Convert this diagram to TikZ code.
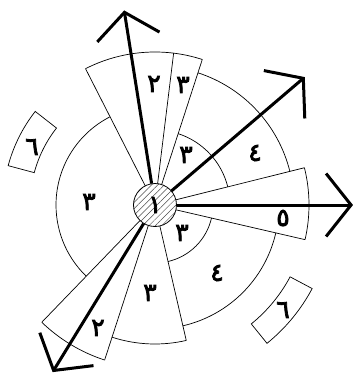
\documentclass[tikz,border=0pt]{standalone}
\usepackage{fontspec}
\newfontfamily\arabicfont[Script=Arabic,FakeBold=3]{DejaVu Sans}
\usetikzlibrary{arrows.meta,patterns.meta}
\begin{document}
\begin{tikzpicture}[x=1pt,y=1pt,
  thinline/.style={line width=0.7pt},
  bigarrow/.style={line width=3pt,-{Straight Barb[length=25pt,width=63pt]}},
  lbl/.style={font=\arabicfont\fontsize{25}{25}\selectfont,inner sep=0pt},
  hubstyle/.style={circle,draw,line width=0.8pt,minimum size=43pt,inner sep=0pt,
    preaction={fill=white},pattern={Lines[angle=45,distance=4.5pt,line width=0.5pt]},pattern color=black!70},
]
\useasboundingbox (-155,-176) rectangle (200,205);
\fill[white] (-155,-176) rectangle (200,205);

% wedge edges
\foreach \a/\r in {117/153, 83/153, 72/153, 14/154, -13/154, -77/139, -108/163, -134/163}
  \draw[thinline] (0,0) -- (\a:\r);

% arcs
\draw[thinline] (72:153) arc[start angle=72,end angle=117,radius=153];
\draw[thinline] (14:139) arc[start angle=14,end angle=72,radius=139];
\draw[thinline] (14:75) arc[start angle=14,end angle=72,radius=75];
\draw[thinline] (-13:154) arc[start angle=-13,end angle=14,radius=154];
\draw[thinline] (-77:58) arc[start angle=-77,end angle=-13,radius=58];
\draw[thinline] (-77:124) arc[start angle=-77,end angle=-13,radius=124];
\draw[thinline] (-108:139) arc[start angle=-108,end angle=-77,radius=139];
\draw[thinline] (-134:163) arc[start angle=-134,end angle=-108,radius=163];
\draw[thinline] (117:99) arc[start angle=117,end angle=226,radius=99];

% boxes
\draw[thinline] (142:125) arc[start angle=142,end angle=165,radius=125] -- (165:152)
  arc[start angle=165,end angle=142,radius=152] -- cycle;
\draw[thinline] (-51:153) arc[start angle=-51,end angle=-28,radius=153] -- (-28:178)
  arc[start angle=-28,end angle=-51,radius=178] -- cycle;

% hub
\node[hubstyle] (hub) at (0,0) {};
\node[lbl] (l1) at (0,0) {١};

% arrows
\coordinate (tipN) at (99:197);
\coordinate (tipNE) at (40.5:197);
\coordinate (tipE) at (0:198);
\coordinate (tipSW) at (-121.5:196);
\draw[bigarrow] (hub) -- (tipN);
\draw[bigarrow] (hub) -- (tipNE);
\draw[bigarrow] (hub) -- (tipE);
\draw[bigarrow] (hub) -- (tipSW);

% labels
\node[lbl] (a2) at (-1,121) {٢};
\node[lbl] (a3) at (28,120) {٣};
\node[lbl] (b3) at (31,50) {٣};
\node[lbl] (b4) at (100,52) {٤};
\node[lbl] (c3) at (-66,3) {٣};
\node[lbl] (d5) at (128,-13) {٥};
\node[lbl] (e3) at (27,-28) {٣};
\node[lbl] (e4) at (62,-68) {٤};
\node[lbl] (f3) at (-5,-88) {٣};
\node[lbl] (g2) at (-57,-123) {٢};
\node[lbl] (h6) at (-123,58) {٦};
\node[lbl] (k6) at (128,-105) {٦};
\end{tikzpicture}
\end{document}
